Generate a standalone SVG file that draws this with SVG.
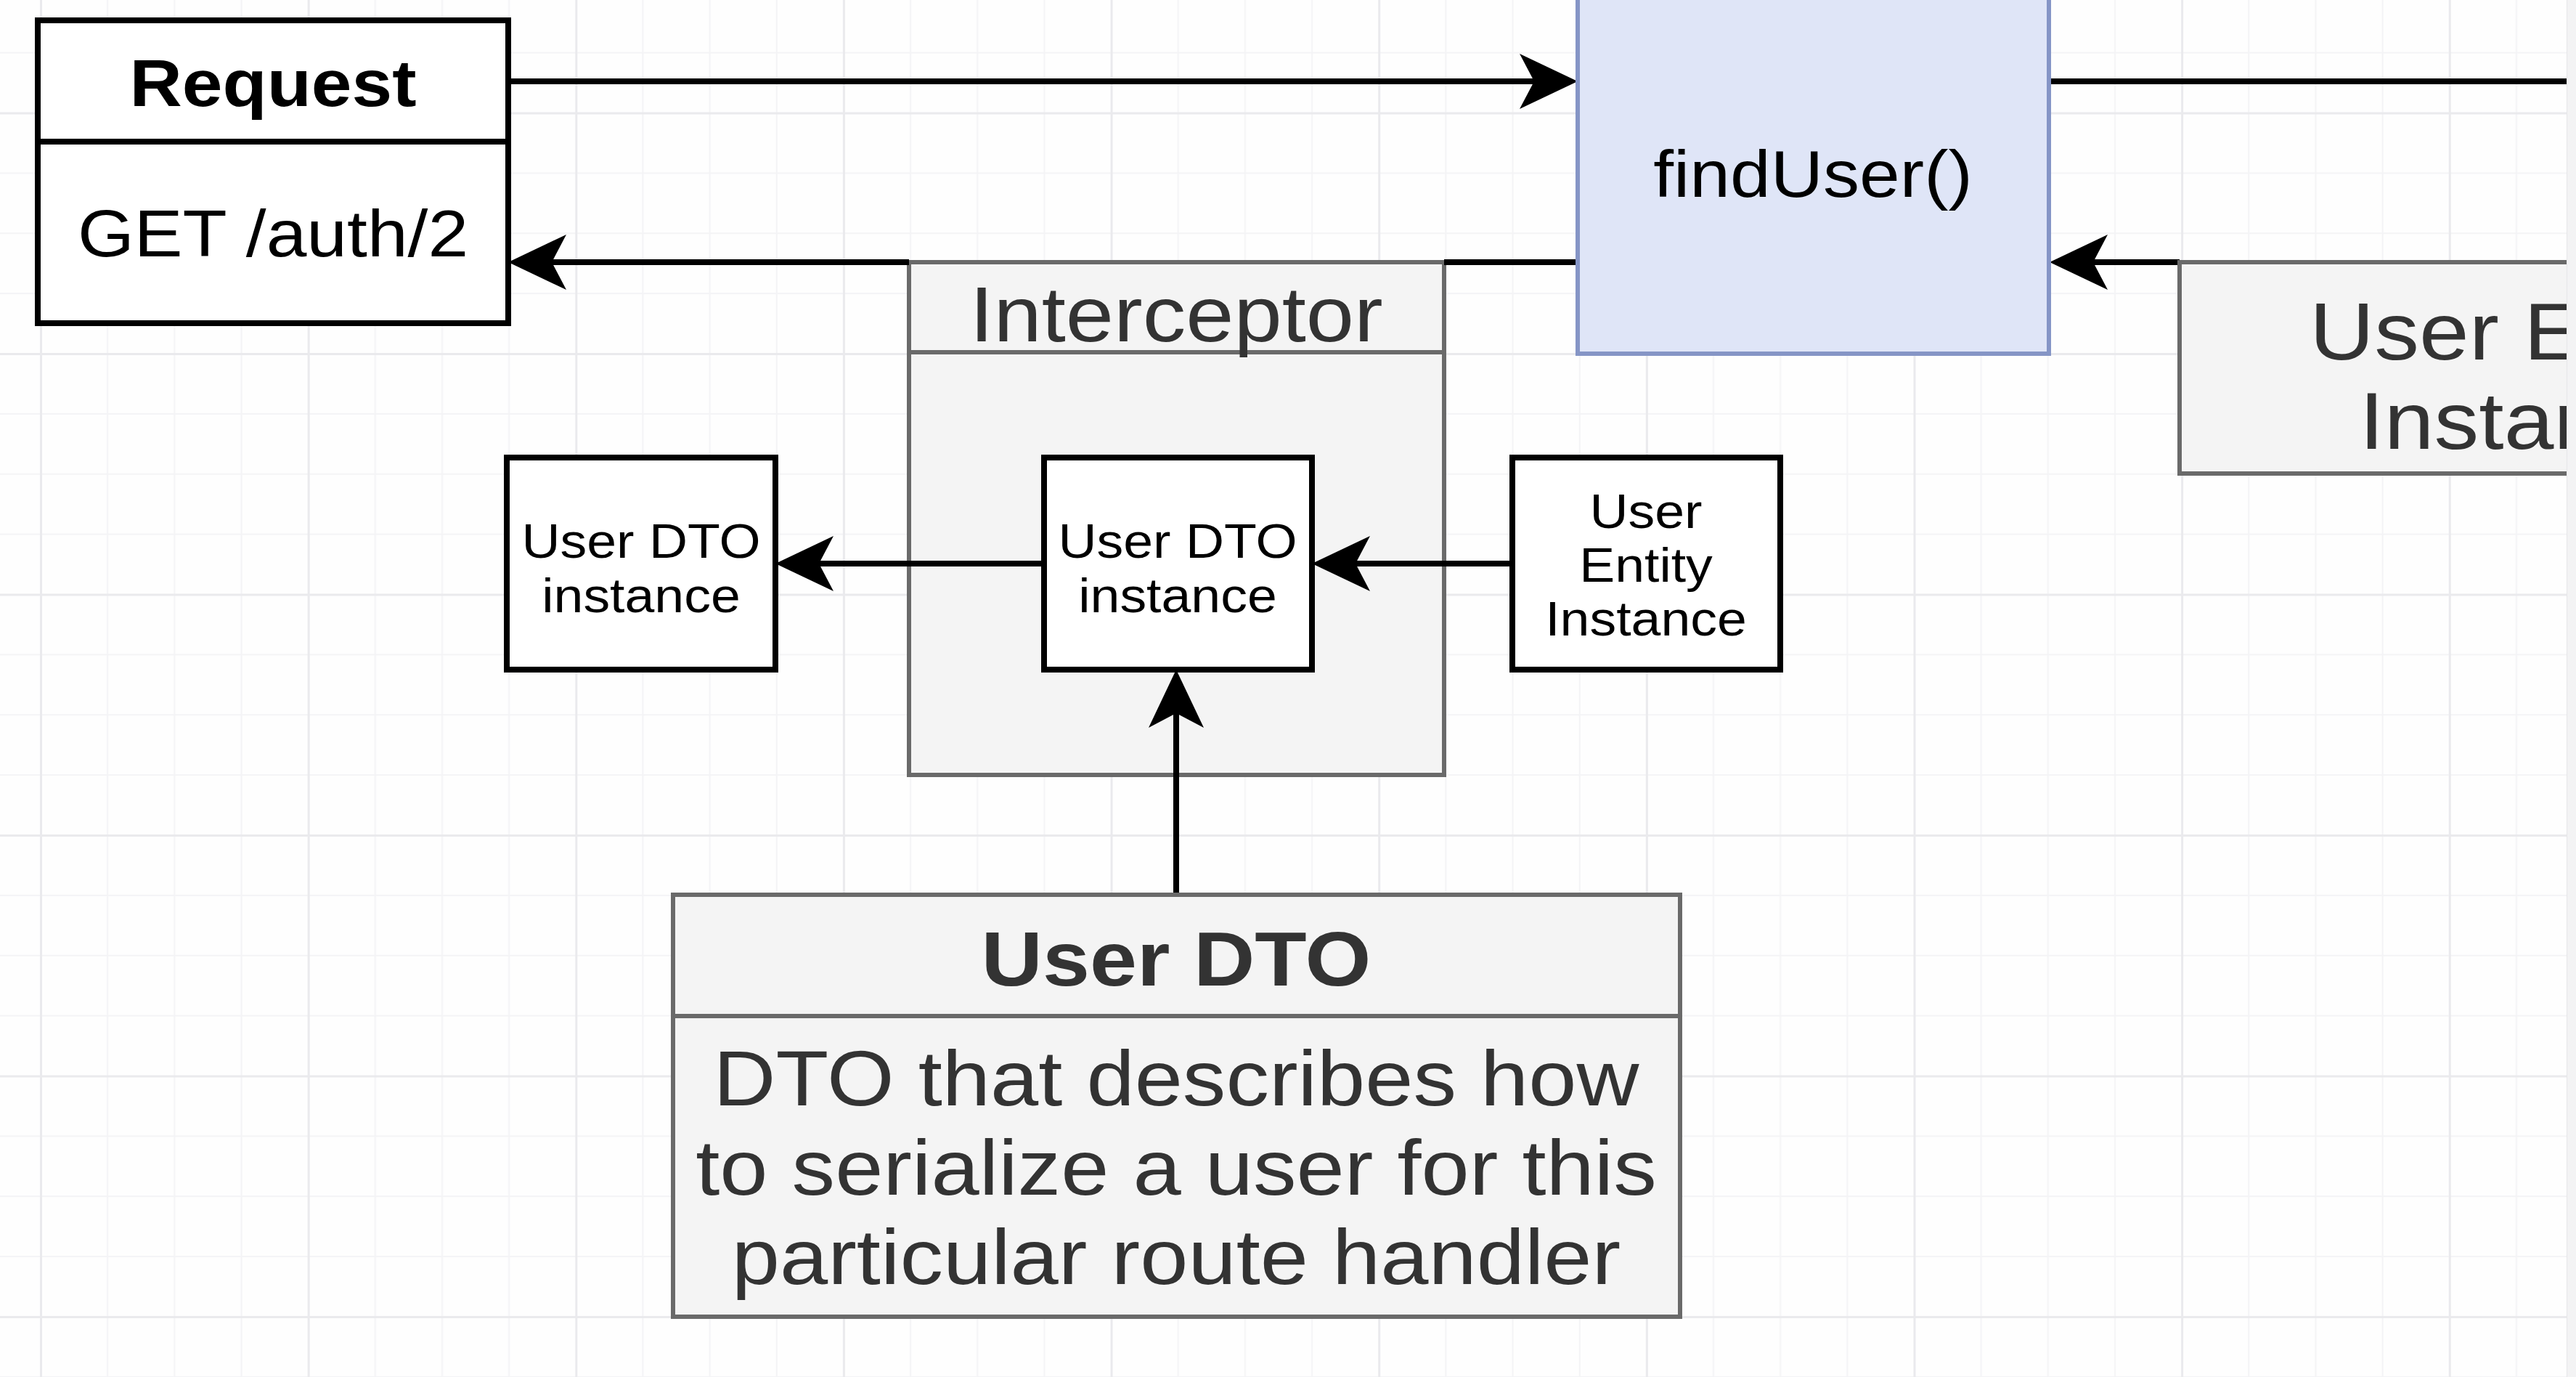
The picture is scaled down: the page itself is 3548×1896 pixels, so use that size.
<svg xmlns="http://www.w3.org/2000/svg" width="3548" height="1896" viewBox="0 0 3548 1896">
  <style>
    .t { font-family: "Liberation Sans", Arial, Helvetica, sans-serif; text-anchor: middle; }
    .b { font-weight: bold; }
    .blk { fill: #000000; }
    .gry { fill: #333333; }
    .box { fill: #ffffff; stroke: #000000; stroke-width: 8; }
    .gbox { fill: #f4f4f4; stroke: #6a6a6a; stroke-width: 6; }
    .gdiv { stroke: #6a6a6a; stroke-width: 6; fill: none; }
    .bdiv { stroke: #000000; stroke-width: 8; fill: none; }
    .fn { fill: #dfe5f7; stroke: #8595c6; stroke-width: 6; }
    .edge { fill: none; stroke: #000000; stroke-width: 8; }
    .arr { fill: none; stroke: #000000; stroke-width: 8; marker-end: url(#arrow); }
  </style>
  <defs>
    <marker id="arrow" markerUnits="userSpaceOnUse" viewBox="0 0 80 76" markerWidth="80" markerHeight="76" refX="20" refY="38" orient="auto">
      <path d="M0,0 L80,38 L0,76 L20,38 Z" fill="#000000"/>
    </marker>
    <pattern id="grid" patternUnits="userSpaceOnUse" x="55" y="154.5" width="368.64" height="331.5">
      <rect x="92.16" y="0" width="2" height="331.5" fill="#f4f4f6"/>
      <rect x="184.32" y="0" width="2" height="331.5" fill="#f4f4f6"/>
      <rect x="276.48" y="0" width="2" height="331.5" fill="#f4f4f6"/>
      <rect x="0" y="82.875" width="368.64" height="2" fill="#f4f4f6"/>
      <rect x="0" y="165.75" width="368.64" height="2" fill="#f4f4f6"/>
      <rect x="0" y="248.625" width="368.64" height="2" fill="#f4f4f6"/>
      <rect x="0" y="0" width="3" height="331.5" fill="#eaeaed"/>
      <rect x="0" y="0" width="368.64" height="3" fill="#eaeaed"/>
    </pattern>
    <clipPath id="view">
      <rect x="0" y="0" width="3535" height="1896"/>
    </clipPath>
  </defs>

  <rect x="0" y="0" width="3548" height="1896" fill="#fefefe"/>
  <rect x="0" y="0" width="3535" height="1896" fill="url(#grid)"/>

  <g clip-path="url(#view)">
    <!-- Interceptor container (drawn below connectors) -->
    <g id="interceptor">
      <rect class="gbox" x="1252" y="361" width="737" height="706"/>
      <line class="gdiv" x1="1252" y1="485" x2="1989" y2="485"/>
      <text class="t gry" font-size="107" transform="translate(1620,470) scale(1.113,1)">Interceptor</text>
    </g>

    <!-- Connectors -->
    <g id="connectors">
      <path class="arr" d="M704,112 H2113"/>
      <path class="edge" d="M2822,112 H3548"/>
      <path class="arr" d="M2173,361 H1989 M1252,361 H760"/>
      <path class="arr" d="M3002,361 H2883"/>
      <path class="arr" d="M2083,776 H1867"/>
      <path class="arr" d="M1438,776 H1128"/>
      <path class="arr" d="M1620,1232 V982"/>
    </g>

    <g id="request">
      <rect class="box" x="52" y="28" width="648" height="417"/>
      <line class="bdiv" x1="52" y1="195" x2="700" y2="195"/>
      <text class="t b blk" font-size="90" transform="translate(376,146) scale(1.113,1)">Request</text>
      <text class="t blk" font-size="90" transform="translate(376,353) scale(1.113,1)">GET /auth/2</text>
    </g>

    <g id="findUser">
      <rect class="fn" x="2173" y="-10" width="649" height="497"/>
      <text class="t blk" font-size="90" transform="translate(2497,271) scale(1.113,1)">findUser()</text>
    </g>

    <g id="userEntityInstanceBig">
      <rect class="gbox" x="3002" y="361" width="962" height="291"/>
      <text class="t gry" font-size="111" transform="translate(3483,495) scale(1.113,1)"><tspan x="0" y="0">User Entity</tspan><tspan x="0" y="123">Instance</tspan></text>
    </g>

    <g id="userDtoInstanceOut">
      <rect class="box" x="698" y="630" width="370" height="292"/>
      <text class="t blk" font-size="66" transform="translate(883,768) scale(1.113,1)"><tspan x="0" y="0">User DTO</tspan><tspan x="0" y="75">instance</tspan></text>
    </g>

    <g id="userDtoInstanceIn">
      <rect class="box" x="1438" y="630" width="369" height="292"/>
      <text class="t blk" font-size="66" transform="translate(1622,768) scale(1.113,1)"><tspan x="0" y="0">User DTO</tspan><tspan x="0" y="75">instance</tspan></text>
    </g>

    <g id="userEntityInstanceSmall">
      <rect class="box" x="2083" y="630" width="369" height="292"/>
      <text class="t blk" font-size="66" transform="translate(2267,727) scale(1.113,1)"><tspan x="0" y="0">User</tspan><tspan x="0" y="74">Entity</tspan><tspan x="0" y="148">Instance</tspan></text>
    </g>

    <g id="userDto">
      <rect class="gbox" x="927" y="1232" width="1387" height="581"/>
      <line class="gdiv" x1="927" y1="1399" x2="2314" y2="1399"/>
      <text class="t b gry" font-size="105" transform="translate(1620,1357) scale(1.113,1)">User DTO</text>
      <text class="t gry" font-size="107" transform="translate(1620,1522) scale(1.113,1)"><tspan x="0" y="0">DTO that describes how</tspan><tspan x="0" y="123">to serialize a user for this</tspan><tspan x="0" y="246">particular route handler</tspan></text>
    </g>
  </g>

  <rect x="3535" y="0" width="13" height="1896" fill="#f3f3f4"/>
  <line x1="3535.5" y1="0" x2="3535.5" y2="1896" stroke="#e6e6e8" stroke-width="1"/>
</svg>
